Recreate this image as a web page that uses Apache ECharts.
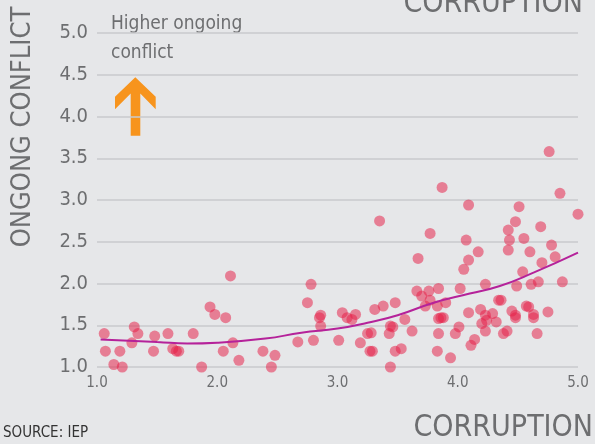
<!DOCTYPE html>
<html>
<head>
<meta charset="utf-8">
<script src="https://cdn.jsdelivr.net/npm/echarts@6/dist/echarts.min.js"></script>
<style>
  html, body { margin: 0; padding: 0; background: #e6e7e9; }
  #chart { width: 595px; height: 444px; }
</style>
</head>
<body>
<div id="chart"></div>
<script>
// corruption score (x) and ongoing conflict score (y)
var corruption = [
    1.06, 1.07, 1.14, 1.19, 1.21, 1.29, 1.31, 1.34, 1.47, 1.48,
    1.59, 1.63, 1.66, 1.68, 1.80, 1.87, 1.94, 1.98, 2.07, 2.11,
    2.05, 2.13, 2.18, 2.38, 2.45, 2.48, 2.67, 2.75, 2.78, 2.80,
    2.85, 2.86, 2.86, 3.01, 3.04, 3.08, 3.12, 3.15, 3.19, 3.25,
    3.28, 3.27, 3.29, 3.31, 3.35, 3.38, 3.43, 3.44, 3.46, 3.44,
    3.48, 3.53, 3.48, 3.56, 3.62, 3.67, 3.66, 3.70, 3.73, 3.76,
    3.77, 3.77, 3.83, 3.84, 3.83, 3.84, 3.84, 3.86, 3.88, 3.87,
    3.90, 3.94, 3.98, 4.01, 4.02, 4.05, 4.07, 4.09, 4.09, 4.09,
    4.11, 4.14, 4.17, 4.19, 4.20, 4.23, 4.23, 4.24, 4.23, 4.29,
    4.32, 4.34, 4.36, 4.38, 4.41, 4.42, 4.43, 4.42, 4.45, 4.48,
    4.48, 4.48, 4.49, 4.51, 4.54, 4.55, 4.57, 4.59, 4.60, 4.61,
    4.63, 4.63, 4.66, 4.67, 4.69, 4.70, 4.75, 4.76, 4.78, 4.81,
    4.85, 4.87, 5.00
];
var conflict = [
    1.40, 1.19, 1.03, 1.19, 1.00, 1.29, 1.48, 1.40, 1.19, 1.37,
    1.40, 1.22, 1.19, 1.19, 1.40, 1.00, 1.72, 1.63, 1.59, 2.09,
    1.19, 1.29, 1.08, 1.19, 1.00, 1.14, 1.30, 1.77, 1.99, 1.32,
    1.59, 1.49, 1.62, 1.32, 1.65, 1.59, 1.57, 1.63, 1.29, 1.40,
    1.41, 1.19, 1.19, 1.69, 2.75, 1.73, 1.40, 1.49, 1.48, 1.00,
    1.19, 1.22, 1.77, 1.57, 1.43, 2.30, 1.91, 1.85, 1.73, 1.91,
    2.60, 1.80, 1.73, 1.94, 1.19, 1.40, 1.58, 1.59, 1.59, 3.15,
    1.77, 1.11, 1.40, 1.48, 1.94, 2.17, 2.52, 2.28, 2.94, 1.65,
    1.26, 1.33, 2.38, 1.69, 1.52, 1.99, 1.43, 1.56, 1.62, 1.64,
    1.54, 1.80, 1.80, 1.40, 1.43, 2.64, 2.52, 2.40, 1.67, 2.74,
    1.62, 1.59, 1.97, 2.92, 2.14, 2.54, 1.73, 1.72, 2.38, 1.99,
    1.63, 1.59, 1.40, 2.02, 2.68, 2.25, 1.66, 3.58, 2.46, 2.32,
    3.08, 2.02, 2.83
];

// trend line, read at a few points along the curve
var trendX = [1.03, 1.5, 1.75, 2.0, 2.4, 2.7, 3.0, 3.25, 3.5, 3.8, 4.1, 4.35, 4.63, 5.0];
var trendY = [1.33, 1.30, 1.28, 1.29, 1.34, 1.41, 1.46, 1.53, 1.62, 1.77, 1.88, 1.97, 2.13, 2.37];

var yTicks = [1.0, 1.5, 2.0, 2.5, 3.0, 3.5, 4.0, 4.5, 5.0];
var xTicks = [1.0, 2.0, 3.0, 4.0, 5.0];

var FONT = '"Liberation Sans Narrow", "DejaVu Sans Condensed", "Roboto", sans-serif';
var GREY = '#6d6e70';

var points = [];
for (var i = 0; i < corruption.length; i++) {
    points.push([corruption[i], conflict[i]]);
}
var trend = [];
for (var j = 0; j < trendX.length; j++) {
    trend.push([trendX[j], trendY[j]]);
}

var myChart = echarts.init(document.getElementById('chart'), null, { renderer: 'canvas' });

var option = {
    backgroundColor: '#e6e7e9',
    animation: false,
    grid: {
        left: 97,
        right: 17,
        top: 33,
        bottom: 77
    },
    xAxis: {
        type: 'value',
        min: xTicks[0],
        max: xTicks[xTicks.length - 1],
        interval: 1,
        axisLine: { show: false },
        axisTick: { show: false },
        splitLine: { show: false },
        axisLabel: {
            color: GREY,
            fontFamily: FONT,
            fontSize: 15,
            margin: 9,
            formatter: function (v) { return v.toFixed(1); }
        }
    },
    yAxis: {
        type: 'value',
        min: yTicks[0],
        max: yTicks[yTicks.length - 1],
        interval: 0.5,
        axisLine: { show: false },
        axisTick: { show: false },
        splitLine: { lineStyle: { color: '#c9cacc', width: 1.5 } },
        axisLabel: {
            color: GREY,
            fontFamily: FONT,
            fontSize: 20,
            margin: 9,
            formatter: function (v) { return v.toFixed(1); }
        }
    },
    graphic: [
        {
            type: 'text',
            x: 23,
            y: 127,
            rotation: Math.PI / 2,
            style: {
                text: 'ONGONG CONFLICT',
                fill: GREY,
                font: '27px ' + FONT,
                align: 'center',
                verticalAlign: 'middle'
            }
        },
        {
            type: 'text',
            right: 12,
            top: -11,
            style: {
                text: 'CORRUPTION',
                fill: GREY,
                font: '30px ' + FONT
            }
        },
        {
            type: 'text',
            right: 2,
            bottom: 1,
            style: {
                text: 'CORRUPTION',
                fill: GREY,
                font: '30px ' + FONT
            }
        },
        {
            type: 'text',
            left: 3,
            bottom: 3,
            style: {
                text: 'SOURCE: IEP',
                fill: '#333333',
                font: '15px ' + FONT
            }
        },
        {
            type: 'text',
            left: 111,
            top: 10,
            style: {
                text: 'Higher ongoing\nconflict',
                fill: GREY,
                font: '19px ' + FONT,
                lineHeight: 29
            }
        },
        {
            type: 'polygon',
            shape: {
                points: [
                    [135.3, 77.3], [155.7, 96.7], [155.7, 109.3], [140.3, 93.6],
                    [140.3, 135.7], [130.7, 135.7], [130.7, 93.6], [115, 109.3], [115, 96.7]
                ]
            },
            style: { fill: '#f7941d' }
        }
    ],
    series: [
        {
            type: 'scatter',
            data: points,
            symbolSize: 11,
            itemStyle: { color: 'rgba(230, 30, 70, 0.65)' },
            z: 2
        },
        {
            type: 'line',
            data: trend,
            smooth: true,
            showSymbol: false,
            lineStyle: { color: '#b5229a', width: 2 },
            z: 3
        }
    ]
};

myChart.setOption(option);
window.addEventListener('resize', myChart.resize);
</script>
</body>
</html>
